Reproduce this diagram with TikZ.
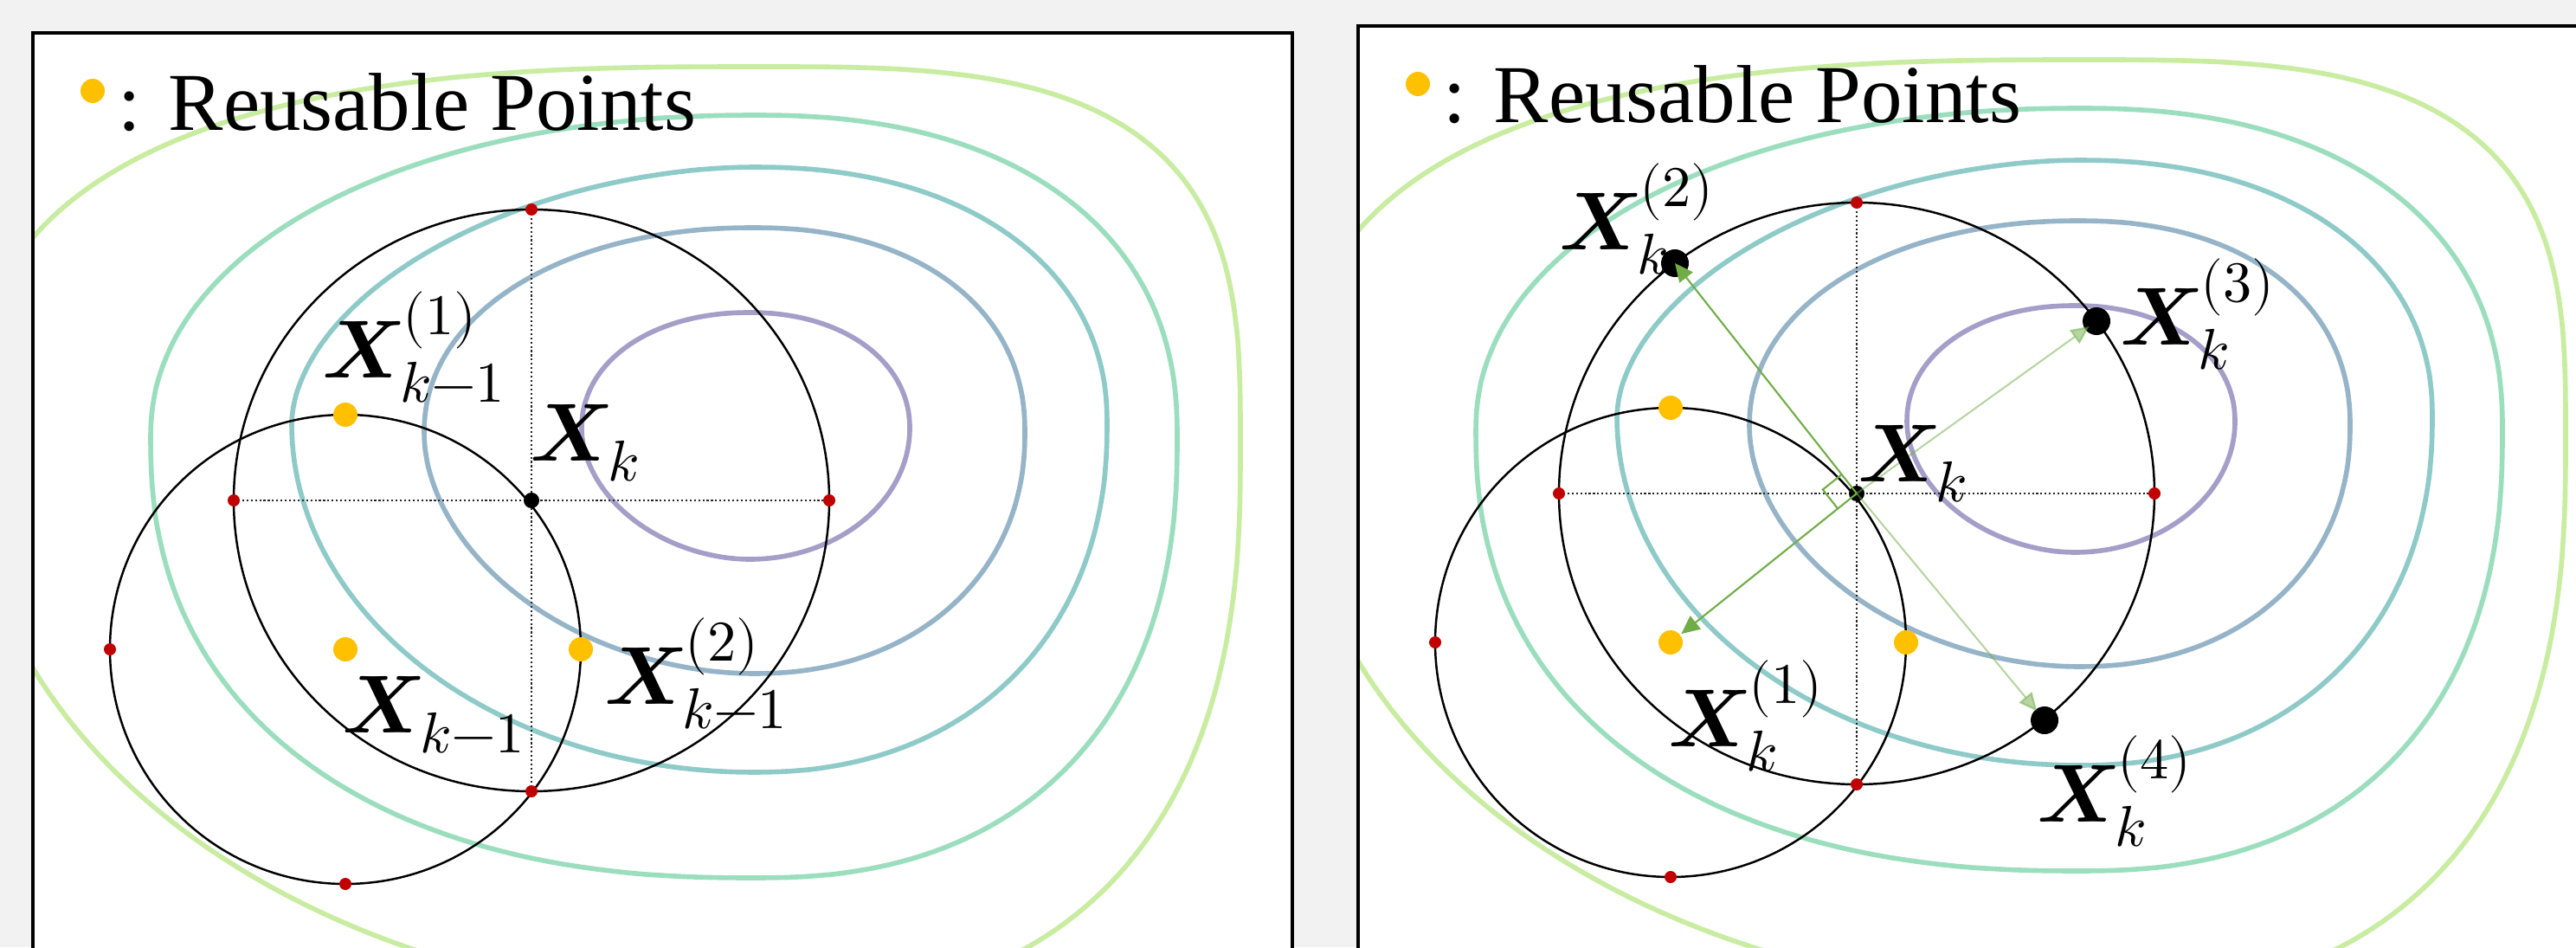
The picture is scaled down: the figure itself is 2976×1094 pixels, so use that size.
\documentclass[tikz,border=0pt]{standalone}
\usepackage{fontspec}
\usepackage{unicode-math}
\setmainfont{Liberation Serif}
\setmathfont{Latin Modern Math}
\usetikzlibrary{calc, arrows.meta}
\definecolor{bggray}{RGB}{242,242,242}
\definecolor{ptyellow}{RGB}{255,192,0}
\definecolor{ptred}{RGB}{192,0,0}
\definecolor{arrgreen}{RGB}{112,173,71}
\definecolor{lvA}{RGB}{165,158,200}
\definecolor{lvB}{RGB}{150,180,200}
\definecolor{lvC}{RGB}{142,202,200}
\definecolor{lvD}{RGB}{155,222,190}
\definecolor{lvE}{RGB}{200,236,160}

% one level set: colour, cx/cy/right/left/up/down, exponents BR/BL/TL/TR
\newcommand{\levelset}[3]{%
  \foreach \cx/\cy/\ar/\al/\bu/\bd in {#2}{%
  \foreach \na/\nb/\nc/\nd in {#3}{%
    \draw[lvl, #1]
      plot[domain=0.05:89.95, samples=60] ({\cx+\ar*pow(cos(\x),2/\na)}, {\cy+\bd*pow(sin(\x),2/\na)})
      -- plot[domain=0.05:89.95, samples=60] ({\cx-\al*pow(sin(\x),2/\nb)}, {\cy+\bd*pow(cos(\x),2/\nb)})
      -- plot[domain=0.05:89.95, samples=60] ({\cx-\al*pow(cos(\x),2/\nc)}, {\cy-\bu*pow(sin(\x),2/\nc)})
      -- plot[domain=0.05:89.95, samples=60] ({\cx+\ar*pow(sin(\x),2/\nd)}, {\cy-\bu*pow(cos(\x),2/\nd)})
      -- cycle;}}}

\begin{document}
\begin{tikzpicture}[x=0.01cm, y=-0.01cm, >=Stealth,
    lvl/.style={line width=1.6pt, line join=round},
    ring/.style={line width=0.7pt},
    axis/.style={line width=0.6pt, black!85, dash pattern=on 0.6pt off 0.8pt},
    lab/.style={font=\fontsize{27}{32}\selectfont, inner sep=0pt, anchor=base west},
    dir/.style={arrgreen, line width=0.6pt, -{Triangle[length=6pt, width=5.5pt]}},
    dirfaint/.style={dir, opacity=0.5}]
  \useasboundingbox (0,0) rectangle (2976,1094);
  \fill[bggray] (0,0) rectangle (2976,1094);
  \clip (0,0) rectangle (2976,1094);

  \foreach \p/\dx/\dy in {L/0/0, R/1531/-8}{
  \begin{scope}[shift={(\dx,\dy)}]
    \fill[white] (38,38) rectangle (1493,1130);
    \begin{scope}
      \clip (38,38) rectangle (1493,1130);
      \levelset{lvE}{870/520/563/905/443/640}{2.5/2.0/2.7/3.2}
      \levelset{lvD}{870/505/490/696/372/509}{2.35/2.3/2.1/2.3}
      \levelset{lvC}{870/490/409/533/297/402}{2.2/2.0/1.85/2.2}
      \levelset{lvB}{870/500/314/380/237/278}{2.15/1.9/2.1/2.2}
      \levelset{lvA}{866/495/185/194/134/151}{2.0/1.9/2.1/2.1}
    \end{scope}
    \draw[line width=1pt] (38,38) rectangle (1493,1130);

    \coordinate (Xk-\p) at (614,578);
    \coordinate (Xm-\p) at (399,750);
    \draw[ring] (Xk-\p) ellipse[x radius=344, y radius=336];
    \draw[ring] (Xm-\p) ellipse[x radius=272, y radius=271];
    \coordinate (T-\p) at (614,242);  \coordinate (B-\p) at (614,914);
    \coordinate (W-\p) at (270,578);  \coordinate (E-\p) at (958,578);
    \coordinate (mT-\p) at (399,479); \coordinate (mB-\p) at (399,1021);
    \coordinate (mW-\p) at (127,750); \coordinate (mE-\p) at (671,750);
    \draw[axis] (W-\p) -- (E-\p);
    \draw[axis] (T-\p) -- (B-\p);
    \foreach \q in {T,B,W,E,mW,mB}
      \fill[ptred] (\q-\p) circle[radius=7];
    \foreach \q in {mT,mE,Xm}
      \fill[ptyellow] (\q-\p) circle[radius=14];
    \fill (Xk-\p) circle[radius=9];

    \fill[ptyellow] (107,105) circle[radius=14];
    \node[font=\fontsize{27}{32}\selectfont, inner sep=0pt, anchor=base west] (key-\p) at (136,150) {: Reusable Points};
  \end{scope}}

  % previous step
  \node[lab] (lXk) at (612,532) {$\symbfit{X}_k$};
  \node[lab] (lXa) at (372,436) {$\symbfit{X}_{k-1}^{(1)}$};
  \node[lab] (lXm) at (395,846) {$\symbfit{X}_{k-1}$};
  \node[lab] (lXb) at (698,813) {$\symbfit{X}_{k-1}^{(2)}$};

  % new directions
  \begin{scope}[shift={(1531,-8)}]
    \coordinate (Xq2) at (404,312);
    \coordinate (Xq3) at (891,379);
    \coordinate (Xq4) at (831,840);
    \foreach \q in {Xq2,Xq3,Xq4}
      \fill (\q) circle[radius=16];
    \draw[dir] (Xk-R) -- (Xq2);
    \draw[dir, shorten >=4.5pt] (Xk-R) -- (Xm-R);
    \draw[dirfaint] (Xk-R) -- ($(Xk-R)!0.97!(Xq3)$);
    \draw[dirfaint] (Xk-R) -- ($(Xk-R)!0.96!(Xq4)$);
    \coordinate (ra) at ($(Xk-R)!0.28cm!(Xq2)$);
    \coordinate (rb) at ($(Xk-R)!0.28cm!(Xm-R)$);
    \draw[arrgreen, line width=0.6pt] (ra) -- ($(ra)+(rb)-(Xk-R)$) -- (rb);

    \node[lab] (nXk) at (615,564) {$\symbfit{X}_k$};
    \node[lab] (nX1) at (396,870) {$\symbfit{X}_k^{(1)}$};
    \node[lab] (nX2) at (270,296) {$\symbfit{X}_k^{(2)}$};
    \node[lab] (nX3) at (918,406) {$\symbfit{X}_k^{(3)}$};
    \node[lab] (nX4) at (822,957) {$\symbfit{X}_k^{(4)}$};
  \end{scope}
\end{tikzpicture}
\end{document}
